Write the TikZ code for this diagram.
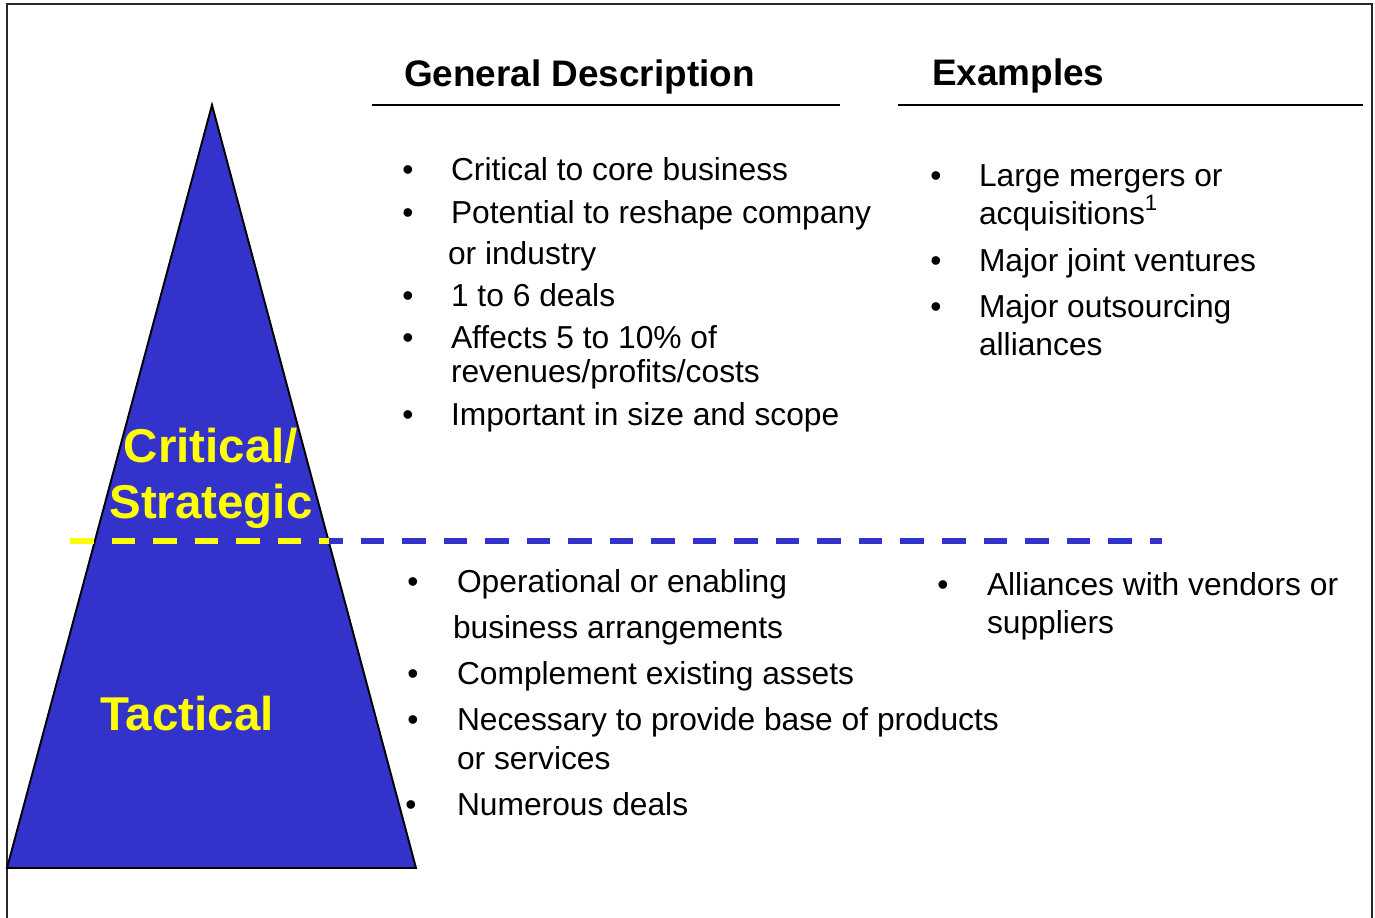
\documentclass[tikz,border=0pt]{standalone}
\usepackage{fontspec}
\setmainfont{Liberation Sans}

\definecolor{pyrblue}{RGB}{51,51,204}
\definecolor{lvlyellow}{RGB}{255,255,0}
\definecolor{framegray}{RGB}{40,40,40}

\newcommand{\bodyfont}{\fontsize{9.03}{10.8}\selectfont}
\newcommand{\headfont}{\fontsize{10.5}{12.6}\selectfont\bfseries}
\newcommand{\levelfont}{\fontsize{13.5}{16}\selectfont\bfseries}

\begin{document}
\begin{tikzpicture}[x=0.01cm, y=-0.01cm,
    every node/.style={inner sep=0pt, outer sep=0pt},
    txt/.style={anchor=base west, font=\bodyfont},
    bul/.style={anchor=base, font=\bodyfont},
    hdr/.style={anchor=base west, font=\headfont},
    lvl/.style={anchor=base, text=lvlyellow, font=\levelfont},
    rule/.style={line width=0.6pt},
    split/.style={line width=1.45pt, dash pattern=on 6.69pt off 5.12pt}]

    \useasboundingbox (0,0) rectangle (1375,918);

    %% Frame
    \draw[framegray, line width=0.65pt] (7,918) -- (7,4) -- (1372,4) -- (1372,918);

    % Pyramid
    \coordinate (apex) at (212,105);
    \coordinate (bl) at (7,868);
    \coordinate (br) at (416,868);
    \filldraw[fill=pyrblue, draw=black, line width=0.55pt] (apex) -- (bl) -- (br) -- cycle;

    % Dividing line
    \coordinate (dl) at (70,541);
    \coordinate (dm) at (328.6,541);
    \coordinate (dr) at (1162,541);
    \draw[split, lvlyellow] (dl) -- (dm);
    \draw[split, pyrblue, dash phase=2.73pt] (dm) -- (dr);

    % Level labels
    \node[lvl] (crit) at (211,462) {Critical/};
    \node[lvl] (strat) at (211,518) {Strategic};
    \node[lvl] (tact) at (187,730) {Tactical};

    %% Headers
    \node[hdr] (hgen) at (404,87) {General Description};
    \node[hdr] (hex) at (932,85) {Examples};
    \draw[rule] (372,105) -- (840,105);
    \draw[rule] (898,105) -- (1363,105);

    % Critical: description
    \node[bul] (b1) at (408,180) {\textbullet};
    \node[txt] (g1) at (451,180) {Critical to core business};
    \node[bul] (b2) at (408,223) {\textbullet};
    \node[txt] (g2) at (451,223) {Potential to reshape company};
    \node[txt] (g2b) at (448,264) {or industry};
    \node[bul] (b3) at (408,306) {\textbullet};
    \node[txt] (g3) at (451,306) {1 to 6 deals};
    \node[bul] (b4) at (408,348) {\textbullet};
    \node[txt] (g4) at (451,348) {Affects 5 to 10\% of};
    \node[txt] (g4b) at (451,382) {revenues/profits/costs};
    \node[bul] (b5) at (408,425) {\textbullet};
    \node[txt] (g5) at (451,425) {Important in size and scope};

    % Critical: examples
    \node[bul] (eb1) at (936,186) {\textbullet};
    \node[txt] (e1) at (979,186) {Large mergers or};
    \node[txt] (e1b) at (979,224) {acquisitions\textsuperscript{1}};
    \node[bul] (eb2) at (936,271) {\textbullet};
    \node[txt] (e2) at (979,271) {Major joint ventures};
    \node[bul] (eb3) at (936,317) {\textbullet};
    \node[txt] (e3) at (979,317) {Major outsourcing};
    \node[txt] (e3b) at (979,355) {alliances};

    % Tactical: description
    \node[bul] (tb1) at (413,592) {\textbullet};
    \node[txt] (t1) at (457,592) {Operational or enabling};
    \node[txt] (t1b) at (453,638) {business arrangements};
    \node[bul] (tb2) at (413,684) {\textbullet};
    \node[txt] (t2) at (457,684) {Complement existing assets};
    \node[bul] (tb3) at (413,730) {\textbullet};
    \node[txt] (t3) at (457,730) {Necessary to provide base of products};
    \node[txt] (t3b) at (457,769) {or services};
    \node[bul] (tb4) at (411,815) {\textbullet};
    \node[txt] (t4) at (457,815) {Numerous deals};

    % Tactical: examples
    \node[bul] (xb1) at (943,595) {\textbullet};
    \node[txt] (x1) at (987,595) {Alliances with vendors or};
    \node[txt] (x1b) at (987,633) {suppliers};

\end{tikzpicture}
\end{document}
